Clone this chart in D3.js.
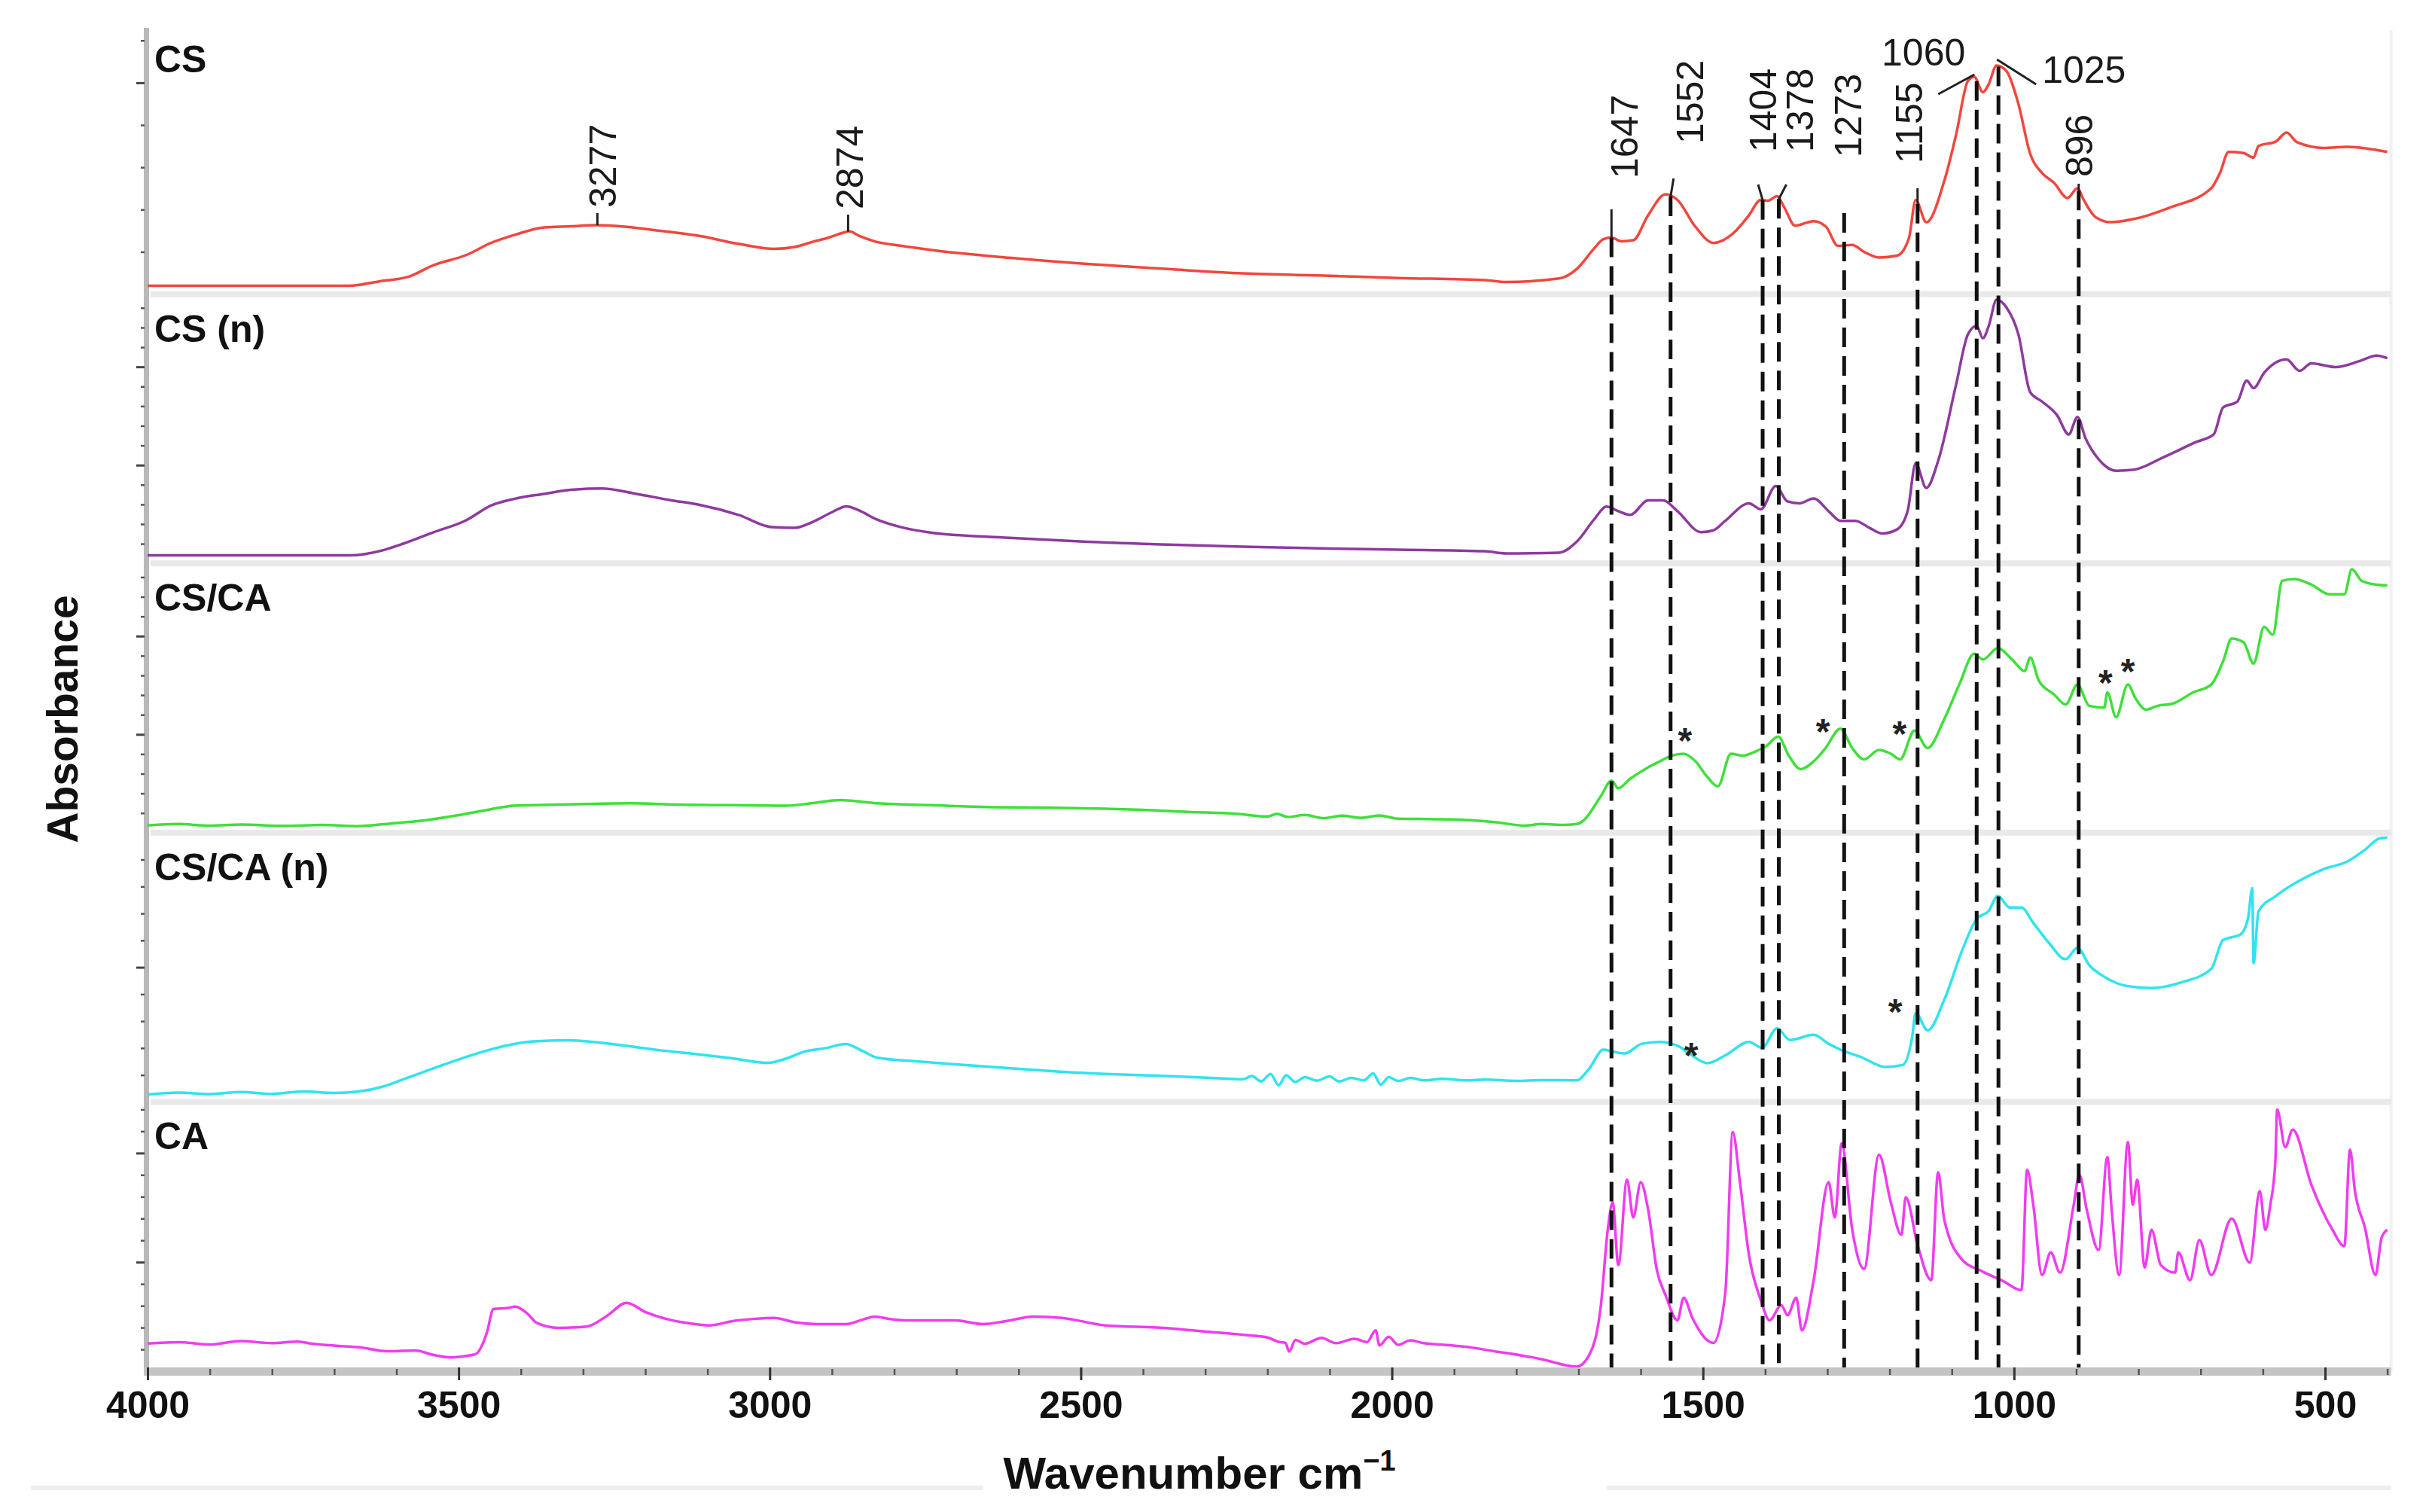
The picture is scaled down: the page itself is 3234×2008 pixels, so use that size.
<!DOCTYPE html>
<html>
<head>
<meta charset="utf-8">
<script src="https://cdn.jsdelivr.net/npm/d3@7"></script>
<style>
  html, body { margin: 0; padding: 0; background: #fff; }
  svg { display: block; font-family: "Liberation Sans", Arial, sans-serif; }
</style>
</head>
<body>
<svg id="chart" width="3234" height="2008"></svg>
<script>
// ---- data (wavenumber cm-1, relative absorbance 0-100 within each panel) ----
const panelNames = ["CS", "CS (n)", "CS/CA", "CS/CA (n)", "CA"];
const panelColors = ["#f2463e", "#8e3a9e", "#3ee03a", "#2fe4ee", "#f03cf0"];

const csSpectrum = [[4000,3.1],[3850,3.1],[3676,3.1],[3626,4.8],[3580,6.5],[3541,10.7],[3488,14.5],[3448,19.0],[3410,22.0],[3362,24.8],[3320,25.2],[3281,25.6],[3230,25.0],[3176,23.5],[3110,21.5],[3049,18.6],[2993,16.8],[2960,17.5],[2930,19.5],[2905,21.0],[2885,22.6],[2872,23.3],[2855,21.5],[2830,19.5],[2790,18.0],[2740,16.4],[2615,13.5],[2490,11.2],[2360,9.3],[2240,7.7],[2100,6.8],[1991,6.0],[1850,5.2],[1817,4.5],[1731,5.8],[1703,9.3],[1674,17.2],[1660,20.4],[1647,21.0],[1631,19.6],[1612,20.0],[1588,29.3],[1560,37.1],[1541,35.0],[1512,25.0],[1483,19.0],[1450,22.9],[1426,29.3],[1407,35.0],[1395,34.7],[1381,36.4],[1369,32.1],[1352,25.4],[1322,27.1],[1302,25.0],[1283,17.9],[1260,18.3],[1241,15.7],[1217,13.6],[1188,14.3],[1169,20.7],[1158,35.0],[1141,26.7],[1112,42.1],[1093,59.3],[1074,79.2],[1064,80.7],[1050,75.0],[1041,77.8],[1028,84.9],[1012,82.8],[993,70.7],[974,52.1],[955,45.0],[936,41.4],[914,35.7],[898,39.3],[888,35.0],[869,28.6],[845,26.7],[807,27.9],[750,32.1],[683,39.3],[669,45.0],[655,52.8],[631,52.4],[615,50.7],[607,55.0],[579,56.7],[562,60.0],[545,56.4],[502,54.3],[464,54.7],[400,52.8]];

const csNanoSpectrum = [[4000,3.0],[3850,3.0],[3676,3.0],[3620,5.0],[3588,7.4],[3541,11.5],[3488,16.0],[3448,21.5],[3410,24.0],[3363,25.8],[3320,27.3],[3270,27.8],[3214,25.8],[3160,23.5],[3114,21.8],[3050,18.0],[2997,13.5],[2960,13.2],[2930,15.5],[2900,19.0],[2877,21.2],[2855,19.5],[2830,16.5],[2790,13.5],[2740,11.4],[2615,9.5],[2490,8.0],[2360,7.0],[2240,6.2],[2100,5.5],[1991,5.1],[1850,4.5],[1817,3.7],[1731,4.0],[1703,8.0],[1674,16.6],[1655,21.1],[1636,19.4],[1617,18.0],[1588,23.4],[1564,23.4],[1541,19.4],[1503,11.6],[1483,12.3],[1464,15.8],[1426,22.3],[1407,20.1],[1383,28.7],[1364,23.0],[1345,22.3],[1322,24.1],[1298,19.4],[1279,15.8],[1255,15.8],[1231,13.0],[1212,11.1],[1188,12.6],[1171,19.4],[1158,37.2],[1141,28.0],[1122,38.0],[1093,66.5],[1074,85.1],[1060,88.2],[1050,83.6],[1041,87.9],[1028,97.9],[1012,95.0],[993,85.1],[974,63.6],[955,60.1],[931,55.1],[912,47.9],[898,54.4],[885,46.5],[864,38.7],[836,34.4],[807,34.8],[760,39.4],[707,45.1],[679,47.9],[664,57.9],[641,60.1],[626,67.9],[615,65.1],[598,70.8],[562,75.8],[541,71.5],[522,74.3],[483,72.9],[445,75.1],[417,77.2],[400,76.2]];

const csCaSpectrum = [[4000,2.7],[3950,3.2],[3900,2.6],[3850,3.0],[3780,2.5],[3720,2.9],[3663,2.4],[3610,3.4],[3560,4.4],[3500,6.5],[3460,8.2],[3428,9.5],[3413,10.0],[3340,10.4],[3223,10.9],[3150,10.4],[3060,10.2],[2974,10.0],[2930,11.0],[2886,12.1],[2850,11.4],[2827,10.9],[2740,10.2],[2651,9.5],[2560,9.3],[2460,8.9],[2400,8.5],[2328,7.7],[2250,7.0],[2200,6.0],[2185,7.0],[2167,5.8],[2140,6.6],[2110,5.4],[2080,6.3],[2050,5.5],[2020,6.4],[1991,5.2],[1930,5.0],[1874,4.6],[1830,3.8],[1786,2.6],[1760,3.2],[1722,2.9],[1701,3.3],[1693,4.3],[1664,13.6],[1647,19.3],[1636,16.5],[1617,20.0],[1593,23.6],[1569,26.5],[1550,28.6],[1531,29.3],[1512,26.5],[1493,20.7],[1476,17.2],[1455,29.3],[1436,28.6],[1417,30.0],[1398,32.2],[1379,35.7],[1362,28.6],[1343,23.6],[1322,26.5],[1303,31.4],[1279,38.6],[1260,31.4],[1241,27.2],[1217,30.7],[1198,29.3],[1183,27.2],[1160,37.9],[1139,31.4],[1112,42.2],[1088,55.0],[1064,66.4],[1050,64.3],[1026,68.5],[1003,64.3],[983,60.0],[974,65.0],[960,56.4],[936,51.4],[917,47.6],[898,55.0],[879,47.1],[855,46.4],[850,52.1],[836,42.9],[817,55.0],[805,50.0],[788,45.7],[769,47.1],[745,47.9],[712,52.1],[683,55.0],[664,63.6],[650,72.1],[631,70.7],[615,62.8],[598,76.4],[584,73.5],[569,93.5],[550,94.2],[522,92.1],[493,88.5],[469,88.5],[457,97.8],[441,93.5],[417,92.1],[400,91.8]];

const csCaNanoSpectrum = [[4000,2.8],[3950,3.5],[3900,2.9],[3850,3.7],[3800,3.0],[3750,3.9],[3700,3.3],[3663,3.8],[3620,5.8],[3589,8.4],[3540,12.5],[3487,16.8],[3440,20.0],[3384,22.4],[3325,22.9],[3280,22.2],[3237,21.0],[3180,19.3],[3120,17.8],[3060,16.2],[3003,14.5],[2970,16.4],[2944,18.7],[2910,20.0],[2878,21.5],[2850,18.8],[2827,16.4],[2760,15.0],[2680,13.6],[2600,12.3],[2534,11.2],[2460,10.4],[2387,9.8],[2310,9.1],[2260,8.6],[2240,8.4],[2225,9.6],[2210,7.6],[2195,10.4],[2182,6.2],[2170,9.9],[2155,7.4],[2140,9.2],[2120,7.9],[2100,9.5],[2085,7.6],[2065,8.9],[2045,8.0],[2030,10.6],[2018,6.4],[2005,9.2],[1990,7.8],[1970,8.9],[1947,8.0],[1920,8.6],[1880,8.0],[1850,8.3],[1800,7.8],[1760,8.1],[1703,8.0],[1683,12.3],[1660,19.4],[1645,18.7],[1626,18.0],[1598,21.6],[1569,22.3],[1541,20.9],[1522,18.0],[1493,14.4],[1464,17.3],[1426,22.3],[1405,20.1],[1381,27.3],[1360,23.0],[1322,24.9],[1298,21.6],[1279,19.4],[1245,16.6],[1207,13.0],[1179,13.7],[1164,23.7],[1158,33.0],[1139,26.6],[1112,38.0],[1083,56.5],[1060,68.0],[1041,70.8],[1026,76.5],[1007,72.2],[988,72.2],[969,66.5],[945,59.4],[917,53.0],[898,57.2],[879,50.8],[855,46.5],[817,43.0],[779,42.3],[731,44.4],[683,49.4],[664,60.1],[636,62.2],[624,68.0],[617,79.4],[615,51.5],[607,70.8],[579,76.5],[541,82.2],[502,86.5],[464,89.3],[436,93.6],[412,97.9],[400,98.2]];

const caSpectrum = [[4000,10.3],[3950,10.8],[3900,9.9],[3850,11.2],[3800,10.4],[3760,11.0],[3738,10.3],[3700,9.5],[3660,8.9],[3613,7.4],[3570,7.7],[3540,6.0],[3513,5.1],[3490,5.6],[3473,6.3],[3455,14.0],[3444,23.1],[3420,23.5],[3409,24.0],[3390,21.5],[3375,18.0],[3340,16.1],[3294,16.6],[3262,20.5],[3230,25.4],[3200,22.0],[3166,19.4],[3130,17.8],[3097,17.0],[3060,18.6],[3027,19.4],[2993,19.8],[2960,18.2],[2923,17.5],[2877,17.5],[2850,19.2],[2831,20.3],[2810,19.5],[2784,18.9],[2703,18.9],[2657,17.5],[2620,18.6],[2576,20.3],[2530,19.8],[2460,17.0],[2367,16.1],[2298,14.7],[2229,13.3],[2200,12.5],[2180,10.8],[2171,10.5],[2165,7.3],[2155,11.6],[2140,10.2],[2113,12.4],[2090,10.4],[2060,12.0],[2040,10.8],[2026,15.2],[2020,9.6],[2005,12.8],[1990,9.8],[1970,11.5],[1951,10.5],[1910,9.7],[1870,8.7],[1830,7.2],[1817,6.8],[1760,4.5],[1703,1.7],[1683,5.9],[1664,24.5],[1653,52.5],[1645,62.7],[1636,39.4],[1622,71.1],[1612,57.1],[1600,70.2],[1588,59.9],[1574,37.5],[1560,28.2],[1541,18.9],[1531,27.3],[1517,19.8],[1483,10.5],[1464,29.2],[1452,88.8],[1441,71.1],[1426,43.1],[1407,26.4],[1393,18.9],[1374,24.5],[1364,20.8],[1350,27.3],[1341,15.2],[1322,33.8],[1298,70.2],[1288,57.1],[1277,84.6],[1260,52.5],[1241,38.0],[1217,80.4],[1198,62.7],[1181,50.6],[1174,64.6],[1155,46.9],[1133,33.8],[1122,73.9],[1112,56.2],[1083,41.3],[1055,37.5],[1017,33.4],[988,30.1],[979,74.8],[969,61.8],[955,35.7],[941,44.1],[926,36.6],[904,61.8],[895,73.0],[883,59.9],[864,45.0],[850,79.5],[843,59.9],[831,35.7],[817,85.1],[809,61.8],[802,71.1],[790,38.5],[779,52.5],[764,39.4],[741,36.6],[736,44.1],[717,33.8],[702,48.7],[683,35.7],[650,56.7],[621,40.3],[605,66.9],[596,52.5],[588,61.8],[580,77.6],[577,97.2],[564,83.2],[552,89.7],[522,69.2],[488,52.5],[469,46.4],[460,82.3],[452,66.9],[436,53.4],[419,35.7],[409,49.7],[400,52.5]];

const spectra = [csSpectrum, csNanoSpectrum, csCaSpectrum, csCaNanoSpectrum, caSpectrum];

const xMajorTicks = [4000, 3500, 3000, 2500, 2000, 1500, 1000, 500];
const dashedPeaks = [1647, 1552, 1404, 1378, 1273, 1155, 1060, 1025, 896];
const verticalTags = [3277, 2874, 1647, 1552, 1404, 1378, 1273, 1155, 896];
const flatTags = [1060, 1025];
// asterisks: [panel index, wavenumber, value]
const asterisks = [[2,1529,37.1],[2,1307,40.5],[2,1184,39.7],[2,853,58.6],[2,817,62.9],[3,1519,20.2],[3,1191,36.5]];

// ---- layout ----
const plotLeft = 196, plotTop = 33, plotBottom = 1821;
const panelH = (plotBottom - plotTop) / panelNames.length;
const leftTickStep = [15.7, 7.3, 7.3, 10, 8.1];
const tagLayout = {
  3277: {dx: 7,  bottom: 276, lead: 283, slant: 0},
  2874: {dx: 2,  bottom: 278, lead: 285, slant: 0},
  1647: {dx: 17, bottom: 237, lead: 278, slant: 0},
  1552: {dx: 25, bottom: 191, lead: 237, slant: 4},
  1404: {dx: 0,  bottom: 202, lead: 245, slant: -6},
  1378: {dx: 27, bottom: 202, lead: 245, slant: 10},
  1273: {dx: 5,  bottom: 209, lead: null, slant: 0, dashTop: 283},
  1155: {dx: -12,bottom: 217, lead: 250, slant: 0},
  896:  {dx: 0,  bottom: 235, lead: 244, slant: 0}
};
const flatLayout = {
  1060: {anchor: "end",   tx: -15, ty: 87,  lead: [-3, 99, -51, 125]},
  1025: {anchor: "start", tx: 58,  ty: 110, lead: [-2, 79, 50, 112]}
};

const svg = d3.select("#chart");

const x = d3.scaleLinear().domain([4000, 500]).range([plotLeft, 3088]);
const xEnd = x(400);
const ys = panelNames.map((_, i) => d3.scaleLinear()
  .domain([0, 100])
  .range([plotTop + (i + 1) * panelH, plotTop + i * panelH]));

// faint outer frame remnants
svg.append("line").attr("x1", xEnd + 5).attr("x2", xEnd + 5).attr("y1", 40).attr("y2", plotBottom)
  .attr("stroke", "#f1f1f1").attr("stroke-width", 4);
svg.append("g").selectAll("line")
  .data([[41, 1306], [2134, 3176]])
  .enter().append("line")
  .attr("x1", d => d[0]).attr("x2", d => d[1])
  .attr("y1", 1976).attr("y2", 1976)
  .attr("stroke", "#efefef").attr("stroke-width", 6);

// panel separators
svg.append("g").selectAll("rect")
  .data(ys.slice(0, -1))
  .enter().append("rect")
  .attr("x", plotLeft + 4).attr("width", xEnd + 5 - plotLeft - 4)
  .attr("y", d => d(0) - 4).attr("height", 8)
  .attr("fill", "#e9e9e9");

// left axis band + ticks
svg.append("rect").attr("x", plotLeft - 5).attr("y", plotTop + 4).attr("width", 7)
  .attr("height", plotBottom - plotTop + 2).attr("fill", "#b9b9b9");
ys.forEach((y, i) => {
  const vals = d3.range(0, 100, leftTickStep[i]);
  svg.append("g").attr("transform", `translate(${plotLeft - 4},0)`)
    .call(d3.axisLeft(y).tickValues(vals.filter((_, k) => k % 5 !== 0)).tickSize(5).tickFormat(""))
    .call(g => g.select(".domain").remove())
    .call(g => g.selectAll("line").attr("stroke", "#555").attr("stroke-width", 2.5));
  svg.append("g").attr("transform", `translate(${plotLeft - 4},0)`)
    .call(d3.axisLeft(y).tickValues(vals.filter((_, k) => k % 5 === 0 && k > 0)).tickSize(11).tickFormat(""))
    .call(g => g.select(".domain").remove())
    .call(g => g.selectAll("line").attr("stroke", "#444").attr("stroke-width", 3));
});

// spectra
const line = (y) => d3.line().curve(d3.curveMonotoneX).x(d => x(d[0])).y(d => y(d[1]));
svg.append("g").selectAll("path")
  .data(spectra)
  .enter().append("path")
  .attr("d", (d, i) => line(ys[i])(d))
  .attr("fill", "none")
  .attr("stroke", (d, i) => panelColors[i])
  .attr("stroke-width", 3.5)
  .attr("stroke-linejoin", "round");

// value of CS spectrum at a wavenumber (for leader / dashed line anchors)
const csAt = (wn) => {
  const asc = csSpectrum.slice().reverse();
  const i = d3.bisector(d => d[0]).left(asc, wn);
  const a = asc[Math.max(0, i - 1)], b = asc[Math.min(asc.length - 1, i)];
  const t = b[0] === a[0] ? 0 : (wn - a[0]) / (b[0] - a[0]);
  return a[1] + t * (b[1] - a[1]);
};

// dashed peak lines
svg.append("g").selectAll("line")
  .data(dashedPeaks)
  .enter().append("line")
  .attr("x1", d => x(d)).attr("x2", d => x(d))
  .attr("y1", d => (tagLayout[d] && tagLayout[d].dashTop) || ys[0](csAt(d)))
  .attr("y2", plotBottom - 4)
  .attr("stroke", "#111").attr("stroke-width", 5)
  .attr("stroke-dasharray", "26 12");

// rotated peak labels + leaders
const tagG = svg.append("g");
verticalTags.forEach(wn => {
  const L = tagLayout[wn];
  const cx = x(wn) + L.dx;
  tagG.append("text")
    .attr("transform", `translate(${cx + 18},${L.bottom}) rotate(-90)`)
    .attr("font-size", 50).attr("fill", "#1a1a1a")
    .text(wn);
  if (L.lead !== null) {
    tagG.append("line")
      .attr("x1", x(wn) + L.slant).attr("y1", L.lead)
      .attr("x2", x(wn)).attr("y2", ys[0](csAt(wn)))
      .attr("stroke", "#222").attr("stroke-width", 3);
  }
});
flatTags.forEach(wn => {
  const L = flatLayout[wn];
  tagG.append("text")
    .attr("x", x(wn) + L.tx).attr("y", L.ty)
    .attr("text-anchor", L.anchor)
    .attr("font-size", 50).attr("fill", "#1a1a1a")
    .text(wn);
  tagG.append("line")
    .attr("x1", x(wn) + L.lead[0]).attr("y1", L.lead[1])
    .attr("x2", x(wn) + L.lead[2]).attr("y2", L.lead[3])
    .attr("stroke", "#222").attr("stroke-width", 3);
});

// asterisks
svg.append("g").selectAll("text")
  .data(asterisks)
  .enter().append("text")
  .attr("x", d => x(d[1]))
  .attr("y", d => ys[d[0]](d[2]) + 27)
  .attr("text-anchor", "middle")
  .attr("font-size", 48).attr("font-weight", "bold").attr("fill", "#222")
  .text("*");

// panel names
svg.append("g").selectAll("text")
  .data(panelNames)
  .enter().append("text")
  .attr("x", 205)
  .attr("y", (d, i) => ys[i](100) + 63)
  .attr("font-size", 50).attr("font-weight", "bold").attr("fill", "#111")
  .text(d => d);

// bottom axis
svg.append("rect").attr("x", plotLeft - 5).attr("y", plotBottom - 5)
  .attr("width", xEnd + 10 - plotLeft).attr("height", 11).attr("fill", "#c4c4c4");
svg.append("g").attr("transform", `translate(0,${plotBottom - 3})`)
  .call(d3.axisBottom(x).tickValues(d3.range(4000, 399, -100)).tickSize(8).tickFormat(""))
  .call(g => g.select(".domain").remove())
  .call(g => g.selectAll("line").attr("stroke", "#555").attr("stroke-width", 2.5));
svg.append("g").attr("transform", `translate(0,${plotBottom - 5})`)
  .call(d3.axisBottom(x).tickValues(xMajorTicks).tickSize(17).tickPadding(14).tickFormat(d3.format("d")))
  .call(g => g.select(".domain").remove())
  .call(g => g.selectAll("line").attr("stroke", "#333").attr("stroke-width", 3))
  .call(g => g.selectAll("text").attr("font-size", 50).attr("font-weight", "bold")
    .attr("fill", "#111").attr("font-family", "'Liberation Sans', Arial, sans-serif"));

// axis titles
const xt = svg.append("text")
  .attr("x", 1593).attr("y", 1977)
  .attr("text-anchor", "middle")
  .attr("font-size", 60).attr("font-weight", "bold").attr("fill", "#111")
  .text("Wavenumber cm");
xt.append("tspan").attr("dy", -24).attr("font-size", 38).text("\u22121");

svg.append("text")
  .attr("transform", "translate(103,955) rotate(-90)")
  .attr("text-anchor", "middle")
  .attr("font-size", 57).attr("font-weight", "bold").attr("fill", "#111")
  .text("Absorbance");
</script>
</body>
</html>
